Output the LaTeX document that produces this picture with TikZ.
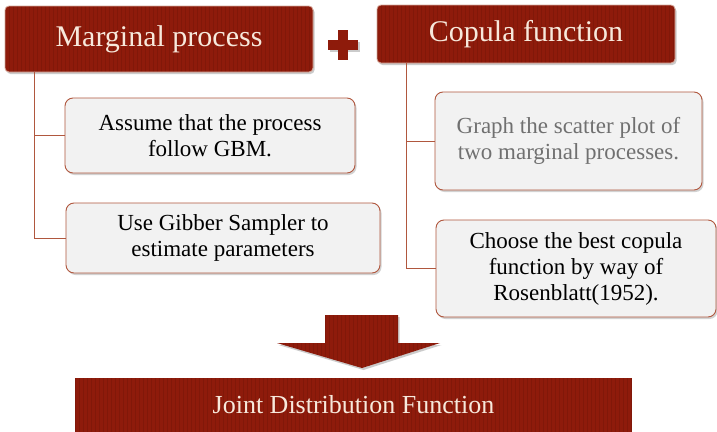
\documentclass[tikz,border=0pt]{standalone}
\usepackage{fontspec}
\setmainfont{Liberation Serif}
\usetikzlibrary{shadows}
\definecolor{dred}{HTML}{8E1B0B}
\definecolor{bline}{HTML}{B0573E}
\definecolor{bfill}{HTML}{F2F2F2}
\definecolor{cream}{HTML}{F7E9DC}
\definecolor{gtext}{HTML}{707070}
\tikzset{
  stripes/.style={path picture={
     \foreach \k in {0,...,140}{
       \draw[dred!75!black, line width=0.7pt, opacity=0.35]
         ([xshift=\k*4pt]path picture bounding box.north west) --
         ([xshift=\k*4pt]path picture bounding box.south west);}}},
  header/.style={fill=dred, draw=cream!70!dred, line width=0.8pt, rounded corners=4pt,
     text=cream, font=\fontsize{30}{34}\selectfont, inner sep=0pt, stripes,
     drop shadow={shadow xshift=1.5pt, shadow yshift=-2pt, fill=black!40}},
  item/.style={fill=bfill, draw=bline, line width=0.9pt, rounded corners=8pt,
     align=center, font=\fontsize{23}{26}\selectfont, inner sep=0pt,
     drop shadow={shadow xshift=1.5pt, shadow yshift=-2pt, fill=black!35}},
  conn/.style={draw=bline, line width=0.9pt},
  redshape/.style={fill=dred, drop shadow={shadow xshift=1.5pt, shadow yshift=-2pt, fill=black!40}}
}
\begin{document}
\begin{tikzpicture}[x=1pt,y=-1pt]
\useasboundingbox (0,0) rectangle (717,431);
\fill[white] (0,0) rectangle (717,431);

\node[header, minimum width=308pt, minimum height=66pt] (mp) at (159,39) {Marginal process};
\node[header, minimum width=298pt, minimum height=58pt] (cf) at (526,34) {Copula function};

% plus sign
\path[redshape] (328,40) rectangle (358,50);
\path[fill=dred] (338,30) rectangle (348,60);
\node[inner sep=0pt] (plus) at (343,45) {};

\node[item, minimum width=290pt, minimum height=75pt] (b1) at (210,135.5) {Assume that the process\\follow GBM.};
\node[item, minimum width=314pt, minimum height=70pt] (b2) at (223,238) {Use Gibber Sampler to\\estimate parameters};
\node[item, minimum width=267pt, minimum height=98pt, text=gtext] (b3) at (568.5,141) {Graph the scatter plot of\\two marginal processes.};
\node[item, minimum width=280pt, minimum height=97pt] (b4) at (576,268.5) {Choose the best copula\\function by way of\\Rosenblatt(1952).};

\coordinate (ml) at (34,72);
\coordinate (cl) at (406,63);
\draw[conn] (ml) |- (b2.west);
\draw[conn] (ml |- b1.west) -- (b1.west);
\draw[conn] (cl) |- (b4.west);
\draw[conn] (cl |- b3.west) -- (b3.west);

% big arrow
\path[redshape, stripes] (325,315) -- (398,315) -- (398,343) -- (440,343) -- (362,368) -- (277,343) -- (325,343) -- cycle;

\node[fill=dred, stripes, minimum width=557pt, minimum height=54pt, inner sep=0pt, text=cream,
      font=\fontsize{26}{30}\selectfont] (jd) at (353.5,405) {Joint Distribution Function};
\end{tikzpicture}
\end{document}
